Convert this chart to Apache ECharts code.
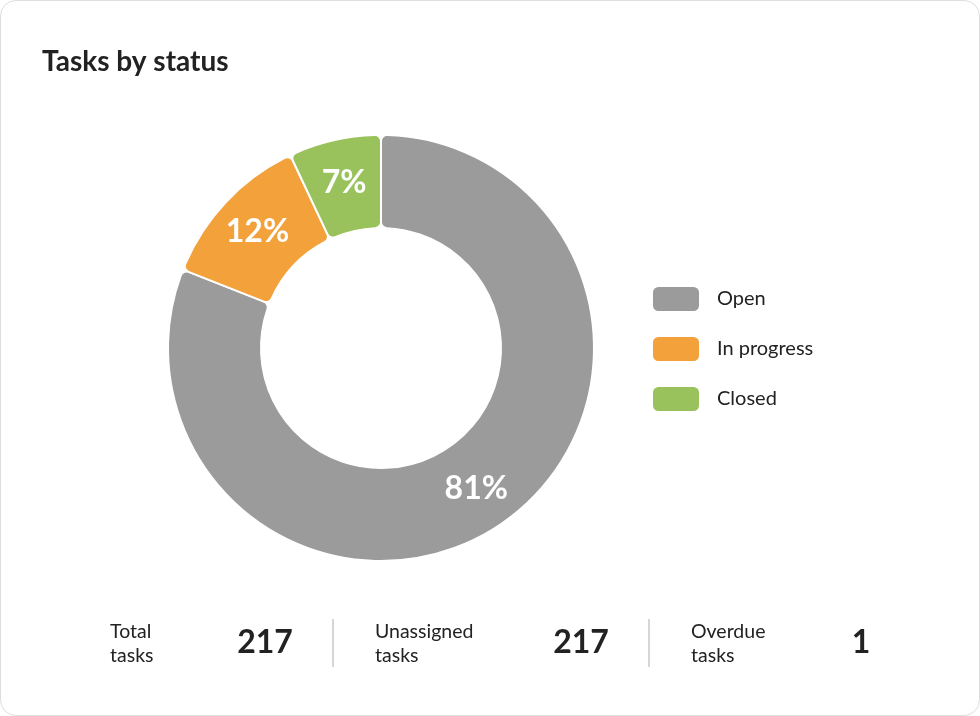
<!DOCTYPE html>
<html>
<head>
<meta charset="utf-8">
<script src="https://cdn.jsdelivr.net/npm/echarts@6/dist/echarts.min.js"></script>
<style>
  html, body { margin: 0; padding: 0; background: #fff; }
  #card {
    position: absolute; left: 0; top: 0;
    width: 978px; height: 714px;
    border: 1px solid #dedede; border-radius: 16px;
    overflow: hidden;
  }
  #chart { width: 978px; height: 714px; }
</style>
</head>
<body>
<div id="card"><div id="chart"></div></div>
<script>
const statusNames = ['Open', 'In progress', 'Closed'];
const statusValues = [81, 12, 7];
const statusColors = ['#9b9b9b', '#f2a13b', '#99c25c'];

const statLabels = ['Total\ntasks', 'Unassigned\ntasks', 'Overdue\ntasks'];
const statValues = [217, 217, 1];

const FONT = 'Lato, "Noto Sans", sans-serif';
const chart = echarts.init(document.getElementById('chart'));

const labelX = [109, 374, 690];
const valueX = [264, 580, 860];
const dividerX = [332, 648];

const graphics = [];
statLabels.forEach((l, i) => {
  graphics.push({
    type: 'text', left: labelX[i], top: 619,
    style: { text: l, font: '19.5px ' + FONT, fill: '#222', lineHeight: 24 }
  });
  graphics.push({
    type: 'text', x: valueX[i], y: 642,
    style: {
      text: String(statValues[i]), font: 'bold 32px ' + FONT, fill: '#222',
      textAlign: 'center', textVerticalAlign: 'middle'
    }
  });
});
dividerX.forEach(x => {
  graphics.push({
    type: 'line', shape: { x1: x, y1: 618, x2: x, y2: 666 },
    style: { stroke: '#d6d6d6', lineWidth: 2 }
  });
});

chart.setOption({
  animation: false,
  title: {
    text: 'Tasks by status',
    left: 41, top: 47, padding: 0,
    textStyle: { fontFamily: FONT, fontSize: 28, fontWeight: 'bold', color: '#222' }
  },
  legend: {
    orient: 'vertical',
    left: 650, top: 284, padding: 0,
    itemWidth: 48, itemHeight: 26, itemGap: 22,
    icon: 'roundRect',
    selectedMode: false,
    data: statusNames,
    textStyle: { fontFamily: FONT, fontSize: 20, lineHeight: 26, color: '#222', padding: [0, 0, 0, 12] }
  },
  graphic: graphics,
  series: [{
    type: 'pie',
    center: [380, 347],
    radius: [120, 213],
    startAngle: 90,
    clockwise: true,
    silent: true,
    itemStyle: { borderColor: '#fff', borderWidth: 2, borderRadius: 6 },
    label: {
      show: true, position: 'inside',
      formatter: '{c}%',
      fontFamily: FONT, fontSize: 32, fontWeight: 'bold', color: '#fff'
    },
    labelLine: { show: false },
    data: statusNames.map((n, i) => ({
      name: n, value: statusValues[i], itemStyle: { color: statusColors[i] }
    }))
  }]
});
</script>
</body>
</html>
